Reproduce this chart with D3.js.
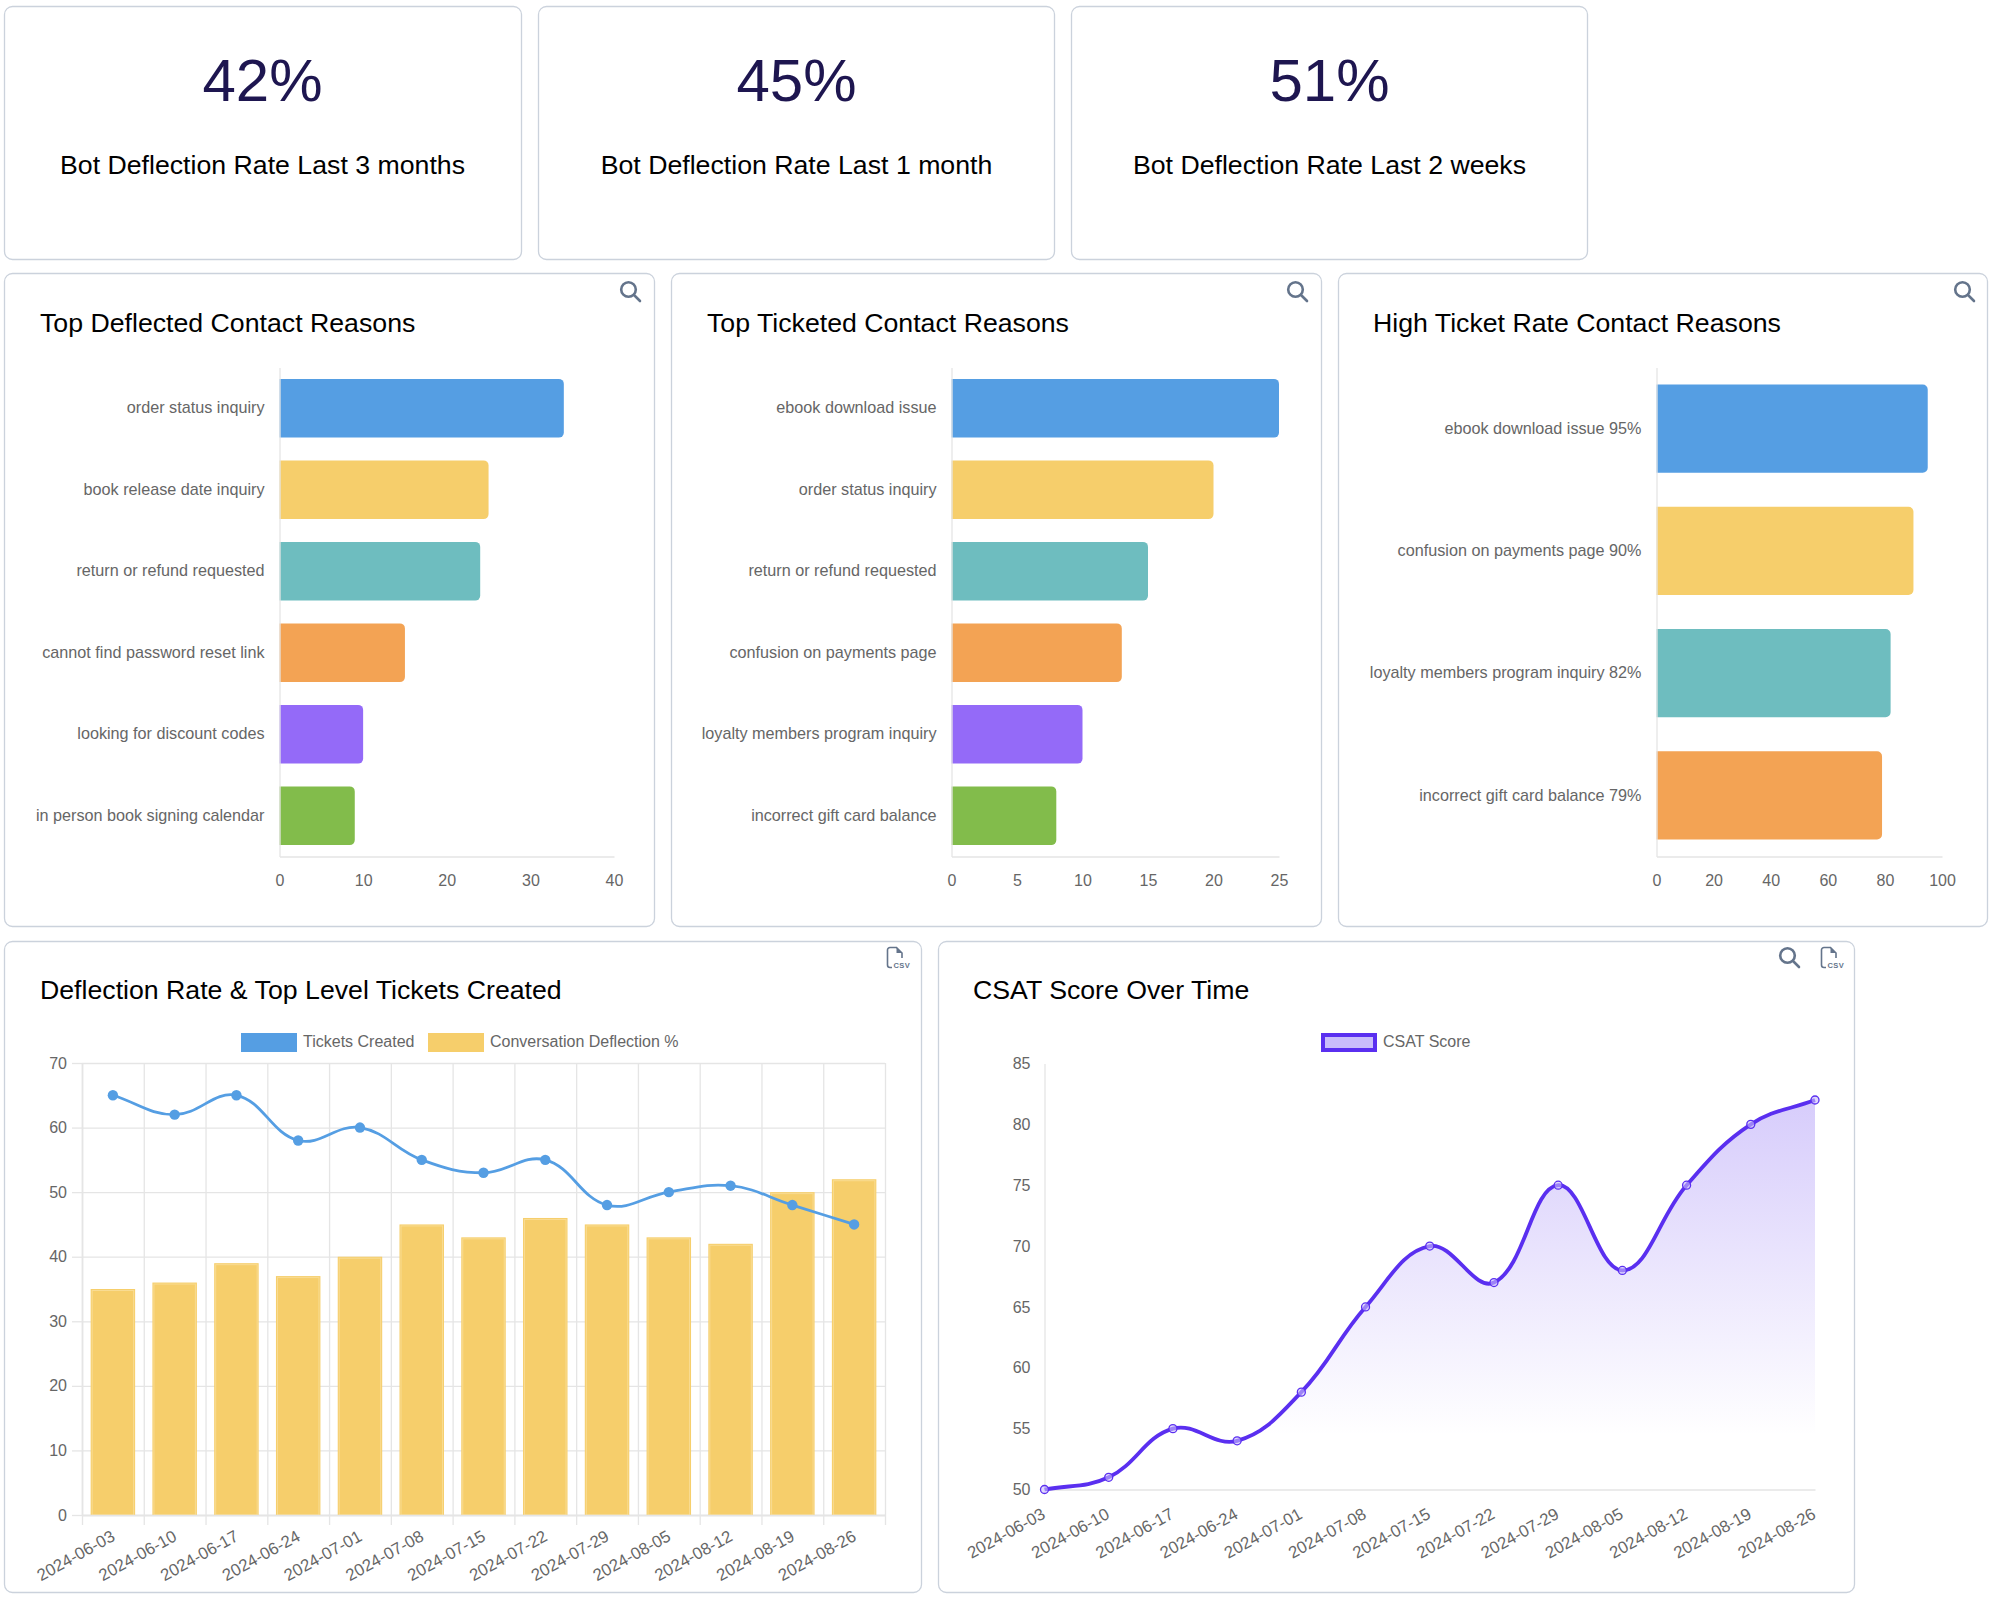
<!DOCTYPE html>
<html>
<head>
<meta charset="utf-8">
<script src="https://cdn.jsdelivr.net/npm/d3@7"></script>
<style>
  body { margin: 0; background: #fff; }
  text { font-family: "Liberation Sans", Arial, sans-serif; }
  .tick text { font-size: 16px; fill: #666; }
  .cat .tick text { font-size: 16.2px; }
  .domain, .tick line { stroke: #e5e5e5; stroke-width: 1.3px; }
</style>
</head>
<body>
<script>
"use strict";

// values
var statValues = ["42%", "45%", "51%"];
var statLabels = ["Bot Deflection Rate Last 3 months", "Bot Deflection Rate Last 1 month", "Bot Deflection Rate Last 2 weeks"];

var deflectedReasons = ["order status inquiry", "book release date inquiry", "return or refund requested", "cannot find password reset link", "looking for discount codes", "in person book signing calendar"];
var deflectedCounts = [34, 25, 24, 15, 10, 9];
var ticketedReasons = ["ebook download issue", "order status inquiry", "return or refund requested", "confusion on payments page", "loyalty members program inquiry", "incorrect gift card balance"];
var ticketedCounts = [25, 20, 15, 13, 10, 8];
var highRateReasons = ["ebook download issue 95%", "confusion on payments page 90%", "loyalty members program inquiry 82%", "incorrect gift card balance 79%"];
var highRateValues = [95, 90, 82, 79];

var weeks = ["2024-06-03", "2024-06-10", "2024-06-17", "2024-06-24", "2024-07-01", "2024-07-08", "2024-07-15", "2024-07-22", "2024-07-29", "2024-08-05", "2024-08-12", "2024-08-19", "2024-08-26"];
var ticketsCreated = [65, 62, 65, 58, 60, 55, 53, 55, 48, 50, 51, 48, 45];
var deflectionPct = [35, 36, 39, 37, 40, 45, 43, 46, 45, 43, 42, 50, 52];
var csatScores = [50, 51, 55, 54, 58, 65, 70, 67, 75, 68, 75, 80, 82];

var barColors = ["#559ee3", "#f6ce6b", "#6ebdbf", "#f3a354", "#946af8", "#82bc4b"];
var purple = "#5a2ff0";
var iconGray = "#64748b";

var svg = d3.select("body").append("svg")
  .attr("width", 1994)
  .attr("height", 1600)
  .style("display", "block");

var grad = svg.append("defs").append("linearGradient")
  .attr("id", "csatFill")
  .attr("gradientUnits", "userSpaceOnUse")
  .attr("x1", 0).attr("x2", 0)
  .attr("y1", 1063).attr("y2", 1436);
grad.append("stop").attr("offset", 0).attr("stop-color", purple).attr("stop-opacity", 0.27);
grad.append("stop").attr("offset", 1).attr("stop-color", purple).attr("stop-opacity", 0);

// same spline the original chart uses: control points weighted by distance to neighbours
function splineCurve(context) {
  var pts = [];
  return {
    lineStart: function() { pts = []; },
    point: function(x, y) { pts.push([+x, +y]); },
    lineEnd: function() {
      var t = 0.4, ctrl = pts.map(function(p, i) {
        var prev = pts[Math.max(i - 1, 0)], next = pts[Math.min(i + 1, pts.length - 1)];
        var d01 = Math.hypot(p[0] - prev[0], p[1] - prev[1]);
        var d12 = Math.hypot(next[0] - p[0], next[1] - p[1]);
        var sum = d01 + d12 || 1;
        var fa = t * d01 / sum, fb = t * d12 / sum;
        return {
          px: p[0] - fa * (next[0] - prev[0]), py: p[1] - fa * (next[1] - prev[1]),
          nx: p[0] + fb * (next[0] - prev[0]), ny: p[1] + fb * (next[1] - prev[1])
        };
      });
      context.moveTo(pts[0][0], pts[0][1]);
      for (var i = 1; i < pts.length; i++) {
        context.bezierCurveTo(ctrl[i - 1].nx, ctrl[i - 1].ny, ctrl[i].px, ctrl[i].py, pts[i][0], pts[i][1]);
      }
    }
  };
}

function card(x0, x1, y0, y1) {
  svg.append("rect")
    .attr("x", x0 + 0.5).attr("y", y0 + 0.5)
    .attr("width", x1 - x0).attr("height", y1 - y0)
    .attr("rx", 8)
    .attr("fill", "#fff")
    .attr("stroke", "#cbd2dc")
    .attr("stroke-width", 1.3);
}

function title(x, y, txt) {
  svg.append("text").attr("x", x).attr("y", y)
    .attr("font-size", 26.7).attr("fill", "#000").text(txt);
}

function searchIcon(x, y) {
  var g = svg.append("g").attr("transform", "translate(" + x + "," + y + ")")
    .attr("fill", "none").attr("stroke", iconGray).attr("stroke-width", 2.6).attr("stroke-linecap", "round");
  g.append("circle").attr("cx", 8.5).attr("cy", 8.5).attr("r", 7.3);
  g.append("line").attr("x1", 14).attr("y1", 14).attr("x2", 20).attr("y2", 20);
}

function csvIcon(x, y) {
  var g = svg.append("g").attr("transform", "translate(" + x + "," + y + ")");
  g.append("path")
    .attr("d", "M5,20.5 H3 a2.5,2.5 0 0 1 -2.5,-2.5 V3 a2.5,2.5 0 0 1 2.5,-2.5 H9.5 L15,6 V11")
    .attr("fill", "none").attr("stroke", iconGray).attr("stroke-width", 1.6);
  g.append("path").attr("d", "M9.5,0.5 L15,6 H9.5 Z").attr("fill", iconGray);
  g.append("text").attr("x", 6.5).attr("y", 20.5)
    .attr("font-size", 7.5).attr("font-weight", "bold").attr("letter-spacing", 0.4).attr("fill", iconGray).text("CSV");
}

// horizontal bar with rounded right end, left edge sits on the axis
function hBarPath(x0, x1, y, h) {
  var r = Math.min(5, x1 - x0);
  var p = d3.path();
  p.moveTo(x0, y);
  p.lineTo(x1 - r, y);
  p.arcTo(x1, y, x1, y + r, r);
  p.lineTo(x1, y + h - r);
  p.arcTo(x1, y + h, x1 - r, y + h, r);
  p.lineTo(x0, y + h);
  p.closePath();
  return p.toString();
}

function hBarChart(opts) {
  var x = d3.scaleLinear().domain([0, opts.max]).range([opts.x0, opts.x1]);
  var y = d3.scaleBand().domain(opts.labels).range([367.5, 856.5]).paddingInner(0.28).paddingOuter(0.14);
  var g = svg.append("g");

  g.selectAll("path.bar").data(opts.values).enter().append("path")
    .attr("class", "bar")
    .attr("fill", function(d, i) { return barColors[i]; })
    .attr("d", function(d, i) { return hBarPath(x(0), x(d), y(opts.labels[i]), y.bandwidth()); });

  g.append("g").attr("class", "cat").attr("transform", "translate(" + opts.x0 + ",0)")
    .call(d3.axisLeft(y).tickSize(0).tickPadding(15).tickSizeOuter(0));
  g.append("g").attr("transform", "translate(0,856.5)")
    .call(d3.axisBottom(x).tickValues(opts.ticks).tickSize(0).tickPadding(18));
}

// top stat cards
var statX = [4, 538, 1071];
var statW = [517, 516, 516];
statValues.forEach(function(v, i) {
  card(statX[i], statX[i] + statW[i], 6, 259);
  var cx = statX[i] + 258.5;
  svg.append("text").attr("x", cx).attr("y", 101).attr("text-anchor", "middle")
    .attr("font-size", 60).attr("fill", "#1e1650").text(v);
  svg.append("text").attr("x", cx).attr("y", 174).attr("text-anchor", "middle")
    .attr("font-size", 26.7).attr("fill", "#000").text(statLabels[i]);
});

// bar chart row
card(4, 654, 273, 926);
card(671, 1321, 273, 926);
card(1338, 1987, 273, 926);
title(40, 332, "Top Deflected Contact Reasons");
title(707, 332, "Top Ticketed Contact Reasons");
title(1373, 332, "High Ticket Rate Contact Reasons");
searchIcon(620, 281);
searchIcon(1287, 281);
searchIcon(1954, 281);

hBarChart({ labels: deflectedReasons, values: deflectedCounts, max: 40, ticks: [0, 10, 20, 30, 40], x0: 279.5, x1: 614 });
hBarChart({ labels: ticketedReasons, values: ticketedCounts, max: 25, ticks: [0, 5, 10, 15, 20, 25], x0: 951.5, x1: 1279 });
hBarChart({ labels: highRateReasons, values: highRateValues, max: 100, ticks: [0, 20, 40, 60, 80, 100], x0: 1656.5, x1: 1942 });

function legendBox(x, y, fill, stroke, label) {
  var inset = stroke === "none" ? 0 : 2;
  svg.append("rect").attr("x", x + inset).attr("y", y + inset)
    .attr("width", 56 - 2 * inset).attr("height", 19 - 2 * inset)
    .attr("fill", fill).attr("stroke", stroke).attr("stroke-width", inset * 2);
  svg.append("text").attr("x", x + 62).attr("y", y + 14)
    .attr("font-size", 16).attr("fill", "#666").text(label);
}

function rotateWeeks(axisG, dx) {
  axisG.selectAll(".tick text")
    .attr("text-anchor", "end")
    .style("font-size", "16.8px")
    .attr("transform", "translate(" + dx + ",0) rotate(-29)");
}

// deflection combo chart
card(4, 921, 941, 1592);
title(40, 999, "Deflection Rate & Top Level Tickets Created");
csvIcon(887, 947);
legendBox(241, 1033, barColors[0], "none", "Tickets Created");
legendBox(428, 1033, barColors[1], "none", "Conversation Deflection %");

var comboLeft = 82, comboRight = 885, comboTop = 1063, comboBottom = 1515;
var comboY = d3.scaleLinear().domain([0, 70]).range([comboBottom, comboTop]);
var comboBand = d3.scaleBand().domain(weeks).range([comboLeft, comboRight]).paddingInner(0.28).paddingOuter(0.14);
var comboEdge = d3.scaleLinear().domain([0, weeks.length]).range([comboLeft, comboRight]);
var edgeTicks = d3.range(weeks.length + 1);

var comboGrid = svg.append("g");
comboGrid.append("g").attr("transform", "translate(" + comboLeft + ",0)")
  .call(d3.axisLeft(comboY).ticks(7).tickSize(-(comboRight - comboLeft)).tickFormat("").tickSizeOuter(0));
comboGrid.append("g").attr("transform", "translate(0," + comboBottom + ")")
  .call(d3.axisBottom(comboEdge).tickValues(edgeTicks).tickSize(-(comboBottom - comboTop)).tickFormat("").tickSizeOuter(0));

svg.append("g").selectAll("rect").data(deflectionPct).enter().append("rect")
  .attr("x", function(d, i) { return comboBand(weeks[i]); })
  .attr("y", function(d) { return comboY(d); })
  .attr("width", comboBand.bandwidth())
  .attr("height", function(d) { return comboBottom - comboY(d); })
  .attr("fill", barColors[1]);
// lighter inner edge on the bars
svg.append("g").selectAll("rect").data(deflectionPct).enter().append("rect")
  .attr("x", function(d, i) { return comboBand(weeks[i]) + 1.5; })
  .attr("y", function(d) { return comboY(d) + 1.5; })
  .attr("width", comboBand.bandwidth() - 3)
  .attr("height", function(d) { return comboBottom - comboY(d) - 1.5; })
  .attr("fill", "none")
  .attr("stroke", "#f9dc92")
  .attr("stroke-width", 1);

svg.append("g").attr("transform", "translate(" + comboLeft + ",0)")
  .call(d3.axisLeft(comboY).ticks(7).tickSize(10).tickPadding(5).tickSizeOuter(0));
svg.append("g").attr("transform", "translate(0," + comboBottom + ")")
  .call(d3.axisBottom(comboEdge).tickValues(edgeTicks).tickSize(10).tickFormat("").tickSizeOuter(0));
var comboAxis = svg.append("g").attr("transform", "translate(0," + (comboBottom + 10) + ")")
  .call(d3.axisBottom(comboBand).tickSize(0).tickPadding(5).tickSizeOuter(0));
comboAxis.select(".domain").remove();
rotateWeeks(comboAxis, -5);

var ticketLine = d3.line()
  .x(function(d, i) { return comboBand(weeks[i]) + comboBand.bandwidth() / 2; })
  .y(function(d) { return comboY(d); })
  .curve(splineCurve);
svg.append("path").attr("d", ticketLine(ticketsCreated))
  .attr("fill", "none").attr("stroke", barColors[0]).attr("stroke-width", 2.8);
svg.append("g").selectAll("circle").data(ticketsCreated).enter().append("circle")
  .attr("cx", function(d, i) { return comboBand(weeks[i]) + comboBand.bandwidth() / 2; })
  .attr("cy", function(d) { return comboY(d); })
  .attr("r", 5.2)
  .attr("fill", barColors[0]);

// CSAT chart
card(938, 1854, 941, 1592);
title(973, 999, "CSAT Score Over Time");
searchIcon(1779, 947);
csvIcon(1821, 947);
legendBox(1321, 1033, "#c9bcfb", purple, "CSAT Score");

var csatTop = 1063.5, csatBottom = 1489.5;
var csatX = d3.scalePoint().domain(weeks).range([1044.5, 1815]);
var csatY = d3.scaleLinear().domain([50, 85]).range([csatBottom, csatTop]);
var csatLine = d3.line()
  .x(function(d, i) { return csatX(weeks[i]); })
  .y(function(d) { return csatY(d); })
  .curve(splineCurve);

svg.append("path")
  .attr("d", csatLine(csatScores) + "L" + csatX(weeks[weeks.length - 1]) + "," + csatBottom + "L" + csatX(weeks[0]) + "," + csatBottom + "Z")
  .attr("fill", "url(#csatFill)");

svg.append("g").attr("transform", "translate(1044.5,0)")
  .call(d3.axisLeft(csatY).tickValues([50, 55, 60, 65, 70, 75, 80, 85]).tickSize(0).tickPadding(14));
var csatAxis = svg.append("g").attr("transform", "translate(0," + csatBottom + ")")
  .call(d3.axisBottom(csatX).tickSize(0).tickPadding(20).tickSizeOuter(0));
rotateWeeks(csatAxis, -14);

svg.append("path").attr("d", csatLine(csatScores))
  .attr("fill", "none").attr("stroke", purple).attr("stroke-width", 3.8);
svg.append("g").selectAll("circle").data(csatScores).enter().append("circle")
  .attr("cx", function(d, i) { return csatX(weeks[i]); })
  .attr("cy", function(d) { return csatY(d); })
  .attr("r", 4)
  .attr("fill", "#c9bcfb")
  .attr("fill-opacity", 0.6)
  .attr("stroke", purple)
  .attr("stroke-width", 1.3);
</script>
</body>
</html>
